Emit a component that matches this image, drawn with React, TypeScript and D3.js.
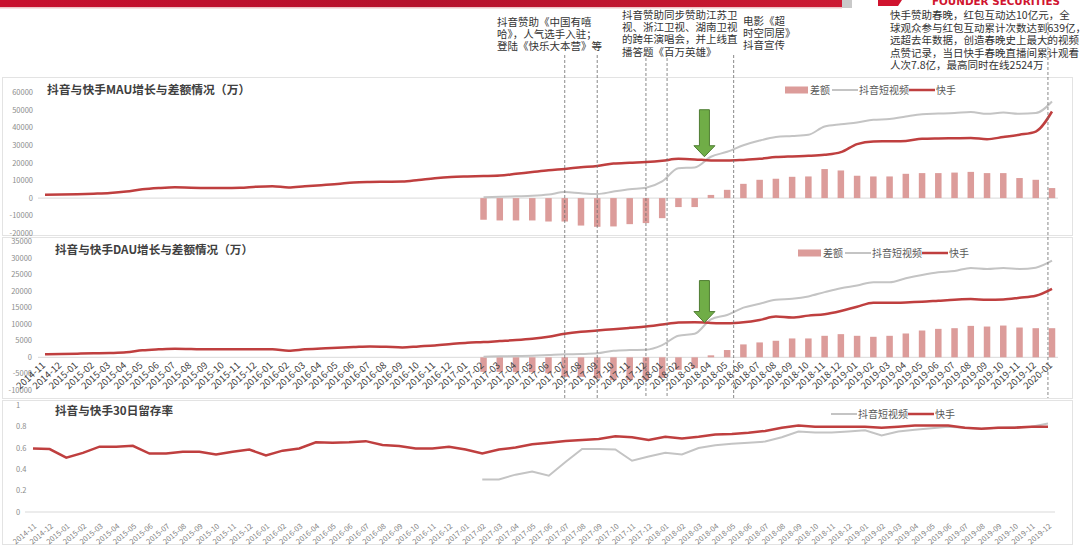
import React, { useEffect } from 'react';
import * as d3 from 'd3';

// ---------- DATA ----------
const months = [
  '2014-11','2014-12',
  '2015-01','2015-02','2015-03','2015-04','2015-05','2015-06','2015-07','2015-08','2015-09','2015-10','2015-11','2015-12',
  '2016-01','2016-02','2016-03','2016-04','2016-05','2016-06','2016-07','2016-08','2016-09','2016-10','2016-11','2016-12',
  '2017-01','2017-02','2017-03','2017-04','2017-05','2017-06','2017-07','2017-08','2017-09','2017-10','2017-11','2017-12',
  '2018-01','2018-02','2018-03','2018-04','2018-05','2018-06','2018-07','2018-08','2018-09','2018-10','2018-11','2018-12',
  '2019-01','2019-02','2019-03','2019-04','2019-05','2019-06','2019-07','2019-08','2019-09','2019-10','2019-11','2019-12',
  '2020-01'
];
const retMonths = months.slice(0, 62);

const pre = (n: number) => Array(n).fill(null);

const mauKuaishou = [
  1900, 2000, 2200, 2500, 2900, 3700, 5000, 5700, 6100, 5900, 5800, 5800, 5900, 6500,
  6800, 6000, 6700, 7300, 8000, 8900, 9200, 9300, 9400, 10300, 11300, 12000,
  12300, 12500, 12800, 13800, 14800, 15800, 16600, 17500, 18300, 19600, 20100, 20500,
  21200, 22300, 22000, 21400, 21300, 21700, 22300, 23300, 23700, 24000, 24600, 26100,
  30700, 32200, 32300, 32500, 33700, 33900, 34000, 34100, 33500, 34700, 36000, 37800,
  49200
];
const mauDouyin = pre(27).concat([
  500, 700, 1000, 1300, 2000, 3400, 2700, 2300, 3700, 5000, 5900,
  9500, 17000, 17400, 23500, 26300, 30000, 32700, 34700, 35300, 36000, 40700, 42000,
  43000, 44500, 44900, 46400, 47700, 48000, 48300, 48900, 47900, 48600, 47900, 48300,
  54900
]);
const mauDiff = pre(27).concat([
  -12300, -12700, -12700, -12700, -13300, -13300, -15600, -16300, -16100, -14800, -14200,
  -11400, -5100, -5100, 1800, 4700, 8100, 10400, 11000, 12100, 12300, 16500, 15700,
  12700, 12300, 12300, 13800, 14200, 14200, 14500, 14900, 14200, 14200, 11400, 10400,
  5700
]);

const dauKuaishou = [
  900, 1000, 1100, 1200, 1300, 1500, 2100, 2400, 2600, 2500, 2400, 2400, 2400, 2400,
  2400, 2000, 2400, 2700, 2900, 3100, 3300, 3200, 3000, 3300, 3600, 4000,
  4400, 4600, 4900, 5200, 5600, 6200, 7100, 7700, 8100, 8500, 8900, 9300,
  9900, 10500, 10600, 10400, 10300, 10600, 11300, 12300, 12000, 12600, 13000, 14000,
  15300, 16500, 16500, 16600, 16800, 17100, 17400, 17600, 17400, 17500, 18000, 18600,
  20700
];
const dauDouyin = pre(27).concat([
  200, 300, 400, 500, 700, 900, 1000, 1200, 2000, 2200, 2300,
  3700, 6500, 7100, 11500, 12800, 15000, 16200, 17400, 17700, 18400, 19700, 20900,
  21700, 22700, 22700, 23900, 24900, 25700, 26100, 27000, 26700, 27000, 26700, 27100,
  29200
]);
const dauDiff = pre(27).concat([
  -4400, -4400, -4500, -4500, -4800, -5900, -5900, -6400, -6900, -6900, -6900,
  -6200, -3800, -3300, 600, 2200, 3900, 4500, 5000, 5700, 5700, 6500, 7000,
  6500, 6200, 6500, 7200, 8100, 8600, 8800, 9500, 9300, 9600, 9000, 8800,
  8800
]);

const retKuaishou = [
  0.596, 0.59, 0.51, 0.554, 0.612, 0.612, 0.62, 0.548, 0.548, 0.565, 0.565, 0.54, 0.565, 0.585,
  0.53, 0.575, 0.596, 0.654, 0.65, 0.654, 0.664, 0.628, 0.618, 0.596, 0.596, 0.612,
  0.585, 0.548, 0.585, 0.605, 0.635, 0.65, 0.665, 0.675, 0.685, 0.71, 0.70, 0.674,
  0.706, 0.69, 0.706, 0.727, 0.73, 0.743, 0.76, 0.79, 0.81, 0.80, 0.80, 0.80,
  0.80, 0.79, 0.80, 0.81, 0.81, 0.81, 0.79, 0.78, 0.79, 0.79, 0.80, 0.80
];
const retDouyin = pre(27).concat([
  0.305, 0.305, 0.35, 0.38, 0.34, 0.468, 0.59, 0.59, 0.586, 0.48, 0.52,
  0.556, 0.54, 0.60, 0.626, 0.64, 0.65, 0.66, 0.70, 0.755, 0.745, 0.745, 0.755,
  0.765, 0.718, 0.755, 0.77, 0.785, 0.80, 0.79, 0.78, 0.79, 0.795, 0.80, 0.83
]);

const mauTicks = [-20000, -10000, 0, 10000, 20000, 30000, 40000, 50000, 60000];
const dauTicks = [-10000, -5000, 0, 5000, 10000, 15000, 20000, 25000, 30000, 35000];
const retTicks = [0, 0.2, 0.4, 0.6, 0.8, 1];

const seriesNames = ['差额', '抖音短视频', '快手'];
const titles = ['抖音与快手MAU增长与差额情况（万）', '抖音与快手DAU增长与差额情况（万）', '抖音与快手30日留存率'];

const annotations = [
  { x: 497, y: 25.5, lh: 12, lines: ['抖音赞助《中国有嘻', '哈》，人气选手入驻；', '登陆《快乐大本营》等'] },
  { x: 622, y: 19, lh: 12.2, lines: ['抖音赞助同步赞助江苏卫', '视、浙江卫视、湖南卫视', '的跨年演唱会，并上线直', '播答题《百万英雄》'] },
  { x: 743, y: 25, lh: 12, lines: ['电影《超', '时空同居》', '抖音宣传'] },
  { x: 890, y: 19, lh: 12.5, lines: ['快手赞助春晚，红包互动达10亿元，全', '球观众参与红包互动累计次数达到639亿，', '远超去年数据，创造春晚史上最大的视频', '点赞记录，当日快手春晚直播间累计观看', '人次7.8亿，最高同时在线2524万'] },
];
// annotation pointer lines, as fractional month positions
const markerIdx = [32, 34, 37, 38.3, 42.4, 61.75];
const markerTop = [55, 55, 53, 53, 55, 22];
const crossIdx = 40.6;

// ---------- STYLE ----------
const RED = '#bf3f3f';
const GRAY = '#c4c4c4';
const BAR = '#dc9c9a';
const FONT = '"Noto Sans CJK SC", "Noto Sans", sans-serif';

export default function App() {
  useEffect(() => {
    document.body.style.margin = '0';
  }, []);

  const W = 1080, H = 547;
  const xIdx = d3.scaleLinear().domain([0, months.length - 1]).range([45, 1052]);
  const x = d3.scalePoint<string>().domain(months).range([45, 1052]);
  const xr = d3.scalePoint<string>().domain(retMonths).range([33, 1048]);

  const yM = d3.scaleLinear().domain([-20000, 60000]).range([233.3, 92.5]);
  const yD = d3.scaleLinear().domain([-10000, 35000]).range([390.4, 241.5]);
  const yR = d3.scaleLinear().domain([0, 1]).range([512, 405.3]);

  const mkLine = (ys: d3.ScaleLinear<number, number>, xs: (i: number) => number, curve: d3.CurveFactory) =>
    d3.line<number | null>()
      .defined(d => d !== null)
      .x((_, i) => xs(i))
      .y(d => ys(d as number))
      .curve(curve);

  const xm = (i: number) => x(months[i]) as number;
  const xrr = (i: number) => xr(retMonths[i]) as number;

  const lineM = mkLine(yM, xm, d3.curveMonotoneX);
  const lineD = mkLine(yD, xm, d3.curveMonotoneX);
  const lineR = mkLine(yR, xrr, d3.curveLinear);

  const bw = 6.5;

  const bars = (vals: (number | null)[], ys: d3.ScaleLinear<number, number>) =>
    vals.map((v, i) => v === null ? null : (
      <rect key={i} x={xm(i) - bw / 2} y={Math.min(ys(v), ys(0))} width={bw}
        height={Math.abs(ys(v) - ys(0))} fill={BAR} />
    ));

  const arrow = (cx: number, tipY: number, len: number) => {
    const head = 11, sw = 5, hw = 10.5;
    const top = tipY - len;
    const hs = tipY - head;
    const p = `M${cx - sw},${top} L${cx + sw},${top} L${cx + sw},${hs} L${cx + hw},${hs} L${cx},${tipY} L${cx - hw},${hs} L${cx - sw},${hs} Z`;
    return <path d={p} fill="#70ad47" stroke="#4f7d33" strokeWidth={1} />;
  };

  const legend = (lx: number, ly: number, withBar: boolean, k: string) => {
    const items: React.ReactNode[] = [];
    let cx = lx;
    if (withBar) {
      items.push(<rect key="b" x={cx} y={ly - 3.5} width={23} height={7} fill={BAR} />);
      cx += 25;
      items.push(<text key="bt" x={cx} y={ly} dy="0.35em" fontSize={10} fill="#595959">{seriesNames[0]}</text>);
      cx += 22;
    }
    items.push(<line key="g" x1={cx} x2={cx + 26} y1={ly} y2={ly} stroke={GRAY} strokeWidth={2} />);
    cx += 27;
    items.push(<text key="gt" x={cx} y={ly} dy="0.35em" fontSize={10} fill="#595959">{seriesNames[1]}</text>);
    cx += 50;
    items.push(<line key="r" x1={cx} x2={cx + 26} y1={ly} y2={ly} stroke={RED} strokeWidth={2.5} />);
    cx += 27;
    items.push(<text key="rt" x={cx} y={ly} dy="0.35em" fontSize={10} fill="#595959">{seriesNames[2]}</text>);
    return <g key={k}>{items}</g>;
  };

  const crossX = xIdx(crossIdx);

  return (
    <svg width={W} height={H} style={{ position: 'absolute', left: 0, top: 0, display: 'block', background: '#fff' }}
      fontFamily={FONT}>
      <rect x={0} y={0} width={W} height={H} fill="#fff" />
      {/* header band */}
      <defs>
        <linearGradient id="band" x1="0" x2="1" y1="0" y2="0">
          <stop offset="0" stopColor="#c8102e" />
          <stop offset="0.5" stopColor="#b5122c" />
          <stop offset="1" stopColor="#cc1a33" />
        </linearGradient>
      </defs>
      <rect x={0} y={0} width={842} height={7} fill="url(#band)" />
      <rect x={0} y={7} width={842} height={1.5} fill="#efc3c6" />
      <rect x={842} y={0} width={10} height={8} fill="#c9c9c9" />
      <path d="M878,0 L902,0 L898,6 L878,6 Z" fill="#d0142f" />
      <text x={932} y={5} fontSize={11} fontWeight="bold" fill="#d0142f" fontFamily="'DejaVu Sans', sans-serif"
        textLength={128} lengthAdjust="spacingAndGlyphs">FOUNDER SECURITIES</text>

      {/* annotations */}
      {annotations.map((a, k) => (
        <text key={k} x={a.x} y={a.y} fontSize={10.5} fill="#333">
          {a.lines.map((l, j) => <tspan key={j} x={a.x} y={a.y + j * a.lh}>{l}</tspan>)}
        </text>
      ))}

      {/* panel frames */}
      <rect x={2.5} y={77.5} width={1070} height={158} fill="none" stroke="#e3e3e3" />
      <rect x={2.5} y={237.5} width={1070} height={161} fill="none" stroke="#e3e3e3" />
      <rect x={2.5} y={400.5} width={1070} height={144} fill="none" stroke="#e3e3e3" />

      {/* ---------- MAU ---------- */}
      <text x={47} y={93.5} fontSize={11.8} fontWeight="bold" fill="#404040">{titles[0]}</text>
      {mauTicks.map(t => (
        <text key={t} x={33} y={yM(t)} dy="0.35em" textAnchor="end" fontSize={7.5} fill="#8c8c8c">{t}</text>
      ))}
      <line x1={38} x2={1058} y1={yM(0)} y2={yM(0)} stroke="#d9d9d9" />
      {bars(mauDiff, yM)}
      <path d={lineM(mauDouyin) || ''} fill="none" stroke={GRAY} strokeWidth={2} />
      <path d={lineM(mauKuaishou) || ''} fill="none" stroke={RED} strokeWidth={2.5} />
      {legend(785, 90, true, 'lm')}
      {arrow(crossX, yM(21800) - 3, 47)}

      {/* ---------- DAU ---------- */}
      <text x={55} y={253.5} fontSize={11.6} fontWeight="bold" fill="#404040">{titles[1]}</text>
      {dauTicks.map(t => (
        <text key={t} x={32} y={yD(t)} dy="0.35em" textAnchor="end" fontSize={7.5} fill="#8c8c8c">{t}</text>
      ))}
      <line x1={38} x2={1058} y1={yD(0)} y2={yD(0)} stroke="#d9d9d9" />
      {bars(dauDiff, yD)}
      <path d={lineD(dauDouyin) || ''} fill="none" stroke={GRAY} strokeWidth={2} />
      <path d={lineD(dauKuaishou) || ''} fill="none" stroke={RED} strokeWidth={2.5} />
      {months.map((m, i) => (
        <text key={m} transform={`translate(${xm(i) + 1},${yD(0) + 9}) rotate(-42)`} textAnchor="end"
          fontSize={9.5} fill="#404040">{m}</text>
      ))}
      {legend(798, 253, true, 'ld')}
      {arrow(crossX, yD(10500), 42)}

      {/* ---------- Retention ---------- */}
      <text x={55} y={415} fontSize={11.6} fontWeight="bold" fill="#404040">{titles[2]}</text>
      {retTicks.map(t => (
        <text key={t} x={16} y={yR(t)} dy="0.35em" fontSize={7.5} fill="#8c8c8c">{String(t)}</text>
      ))}
      <line x1={25} x2={1055} y1={yR(0)} y2={yR(0)} stroke="#d9d9d9" />
      <path d={lineR(retDouyin) || ''} fill="none" stroke={GRAY} strokeWidth={2} />
      <path d={lineR(retKuaishou) || ''} fill="none" stroke={RED} strokeWidth={2.5} />
      {retMonths.map((m, i) => (
        <text key={m} transform={`translate(${xrr(i) + 4},${yR(0) + 15}) rotate(-40)`} textAnchor="end"
          fontSize={7.5} fill="#7f7f7f">{m}</text>
      ))}
      {legend(831, 414, false, 'lr')}

      {/* annotation pointer lines */}
      {markerIdx.map((mi, k) => (
        <line key={k} x1={xIdx(mi)} x2={xIdx(mi)} y1={markerTop[k]} y2={398}
          stroke="#6b6b6b" strokeWidth={0.8} strokeDasharray="3,2" />
      ))}
    </svg>
  );
}
